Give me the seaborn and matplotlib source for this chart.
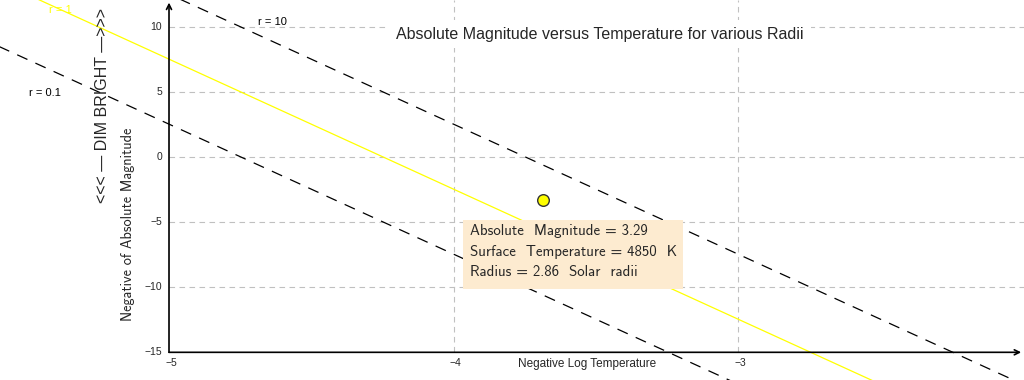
import matplotlib
matplotlib.use("Agg")
import matplotlib.pyplot as plt
import seaborn as sns
import pandas as pd
from matplotlib.patches import Rectangle

# ---- data ----
line_x = [-5.6, -2.0]                 # negative log temperature
neg_mag_r0_1 = [8.55, -27.45]         # r = 0.1
neg_mag_r1 = [13.55, -22.45]          # r = 1
neg_mag_r10 = [18.55, -17.45]         # r = 10
radius_labels = ["r = 0.1", "r = 1", "r = 10"]

star_x = [-3.686]
star_y = [-3.29]

x_ticks = [-5, -4, -3]
y_ticks = [-15, -10, -5, 0, 5, 10]
x_tick_labels = ["\u22125", "\u22124", "\u22123"]
y_tick_labels = ["\u221215", "\u221210", "\u22125", "0", "5", "10"]

info_lines = ["Absolute  Magnitude = 3.29",
              "Surface  Temperature = 4850  K",
              "Radius = 2.86  Solar  radii"]

sns.set_style("white")
plt.rcParams["font.family"] = ["Liberation Sans", "DejaVu Sans"]

fig = plt.figure(figsize=(10.24, 3.8), dpi=100)
ax = fig.add_axes([0, 0, 1, 1])
ax.set_xlim(-5.594, -1.995)
ax.set_ylim(-17.13, 12.1)
for s in ax.spines.values():
    s.set_visible(False)
ax.set_xticks([])
ax.set_yticks([])

# grid starting at the axes
grid_kw = dict(color="#c0c0c0", linestyle=(0, (5, 4)), linewidth=0.8, zorder=0)
ax.hlines(y_ticks[1:], -5, -1.995, **grid_kw)
ax.vlines(x_ticks[1:], -15, 12.1, **grid_kw)

df = pd.DataFrame({"x": line_x * 3,
                   "y": neg_mag_r0_1 + neg_mag_r1 + neg_mag_r10,
                   "r": [radius_labels[0]] * 2 + [radius_labels[1]] * 2 + [radius_labels[2]] * 2})
styles = {"r = 0.1": ("black", (0, (9, 7))),
          "r = 1": ("#ffff00", "-"),
          "r = 10": ("black", (0, (9, 7)))}
for r, sub in df.groupby("r"):
    c, ls = styles[r]
    sns.lineplot(data=sub, x="x", y="y", ax=ax, color=c, linestyle=ls,
                 linewidth=0.9, legend=False, zorder=2)

# axes with arrows
ax.annotate("", xy=(-5, 11.9), xytext=(-5, -15),
            arrowprops=dict(arrowstyle="->", lw=1.2, color="black", mutation_scale=9,
                            shrinkA=0, shrinkB=0), zorder=3)
ax.annotate("", xy=(-2.005, -15), xytext=(-5, -15),
            arrowprops=dict(arrowstyle="->", lw=1.2, color="black", mutation_scale=9,
                            shrinkA=0, shrinkB=0), zorder=3)

for v, lab in zip(y_ticks, y_tick_labels):
    ax.text(-5 - 7 / 284.5, v, lab, ha="right", va="center", fontsize=7.5, zorder=4)
for v, lab in zip(x_ticks, x_tick_labels):
    ax.text(v + 2 / 284.5, -15.85, lab, ha="center", va="center", fontsize=7.5, zorder=4)

# radius labels
ax.text(-5.383, 11.33, radius_labels[1], color="#ffff00", fontsize=8, ha="center", va="center")
ax.text(-4.638, 10.41, radius_labels[2], color="black", fontsize=8, ha="center", va="center")
ax.text(-5.436, 4.95, radius_labels[0], color="black", fontsize=8, ha="center", va="center")

# title
ax.text(-3.485, 9.48, "Absolute Magnitude versus Temperature for various Radii",
        ha="center", va="center", fontsize=11.5, zorder=5,
        bbox=dict(facecolor="white", edgecolor="none", pad=5))

# axis labels
ax.text(-3.531, -15.9, "Negative Log Temperature", ha="center", va="center",
        fontsize=8.5, zorder=5, bbox=dict(facecolor="white", edgecolor="none", pad=3))
ax.text(-5.235, 4.02, "<<< \u2014 DIM BRIGHT \u2014>>>", rotation=90, ha="center",
        va="center", fontsize=11.5, zorder=4)
ax.text(-5.144, -5.18, "Negative of Absolute Magnitude", rotation=90,
        family=["cmss10", "DejaVu Sans"], ha="center", va="center", fontsize=10.3, zorder=4)

# info box
ax.add_patch(Rectangle((-3.967, -10.13), 0.774, 5.31, facecolor="#fdebd0",
                       edgecolor="none", zorder=6))
for yy, t in zip([-5.67, -7.28, -8.82], info_lines):
    ax.text(-3.942, yy, t, ha="left", va="center", fontsize=10.7,
            family=["cmss10", "DejaVu Sans"], zorder=7)

sns.scatterplot(x=star_x, y=star_y, ax=ax, s=70, color="#ffff00",
                edgecolor="#333333", linewidth=1.0, zorder=8, legend=False)

fig.savefig("out.png", dpi=100)
